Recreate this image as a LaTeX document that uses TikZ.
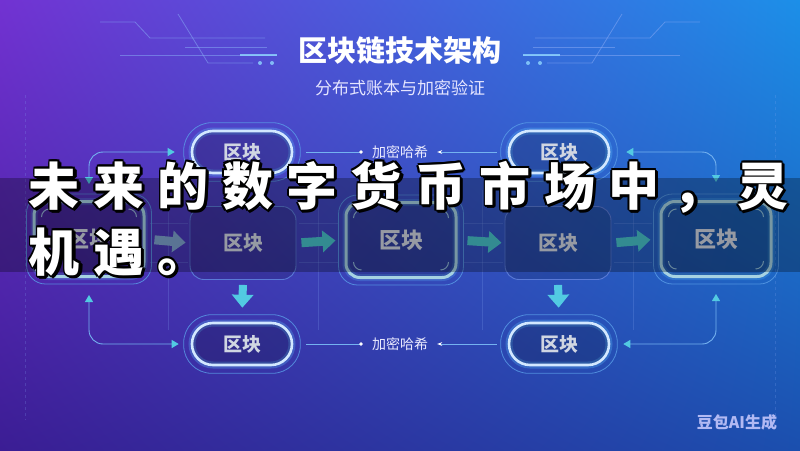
\documentclass[tikz,border=0pt]{standalone}
\usepackage{fontspec}
\setmainfont{Noto Sans CJK SC}
\usetikzlibrary{arrows.meta,calc,shadings}
\definecolor{bgUL}{HTML}{7232D2}
\definecolor{bgUR}{HTML}{1C8FE8}
\definecolor{bgLL}{HTML}{3B1D94}
\definecolor{bgLR}{HTML}{1B4FAE}
\definecolor{pillb}{HTML}{D2E8FF}
\definecolor{glowc}{HTML}{5EC4FF}
\definecolor{ringc}{HTML}{5A9EE8}
\definecolor{txtc}{HTML}{D0D6E2}
\definecolor{gsqb}{HTML}{A6D2E2}
\definecolor{boxb}{HTML}{5A7AD6}
\definecolor{teal}{HTML}{48C2CA}
\definecolor{greyblue}{HTML}{7EA2CE}
\definecolor{connc}{HTML}{74B2F0}
\definecolor{tipc}{HTML}{52CAE2}
\definecolor{decoc}{HTML}{86A8F4}
\definecolor{decob}{HTML}{8FD6FF}
\newcommand\ovc[1]{\makebox[64.4pt]{#1}}
\newcommand\ovlineA{\ovc{未}\ovc{来}\ovc{的}\ovc{数}\ovc{字}\ovc{货}\ovc{币}\ovc{市}\ovc{场}\ovc{中}\ovc{，}\ovc{灵}}
\newcommand\ovlineB{\ovc{机}\ovc{遇}\ovc{。}}
\newcommand\cornermarks[1]{%
  \draw[cmark] ($(#1.south west)+(9pt,17pt)$) arc[start angle=180,end angle=270,radius=8pt];
  \draw[cmark] ($(#1.south east)+(-17pt,9pt)$) arc[start angle=270,end angle=360,radius=8pt];
  \draw[cmark] ($(#1.north east)+(-9pt,-17pt)$) arc[start angle=0,end angle=90,radius=8pt];
  \draw[cmark] ($(#1.north west)+(17pt,-9pt)$) arc[start angle=90,end angle=180,radius=8pt];}
\begin{document}
\begin{tikzpicture}[x=1pt,y=-1pt,
  pill/.style={draw=pillb, line width=2.6pt, fill=black, fill opacity=0.18, text opacity=1,
    rounded corners=21pt, minimum width=100pt, minimum height=42pt, inner sep=0pt,
    text=txtc, font=\bfseries\fontsize{19}{19}\selectfont,
    preaction={draw=glowc, line width=7pt, draw opacity=0.28}},
  gsq/.style={draw=gsqb, line width=3pt, fill=black, fill opacity=0.16, text opacity=1,
    rounded corners=14pt, minimum width=110pt, minimum height=75pt, inner sep=0pt,
    text=txtc, font=\bfseries\fontsize{22}{22}\selectfont,
    preaction={draw=glowc, line width=7pt, draw opacity=0.22}},
  plainbox/.style={draw=boxb, line width=0.9pt, fill=black, fill opacity=0.12, text opacity=1,
    rounded corners=14pt, minimum width=106pt, minimum height=73pt, inner sep=0pt,
    text=txtc, font=\bfseries\fontsize{20}{20}\selectfont},
  ring/.style={draw=ringc, line width=0.8pt, draw opacity=0.8},
  cmark/.style={draw=gsqb, line width=1pt, draw opacity=0.8},
  hash/.style={text=white!92!blue, font=\fontsize{14}{14}\selectfont, inner sep=4pt},
  fat/.style={draw=teal, line width=9pt, -{Triangle[width=21pt,length=13pt]}},
  conn/.style={draw=connc, line width=0.9pt, rounded corners=14pt,
    {Triangle[width=8pt,length=7pt,color=tipc]}-{Triangle[width=8pt,length=7pt,color=tipc]}},
  hline/.style={draw=connc, line width=0.9pt},
  deco/.style={draw=decoc, line width=0.8pt, draw opacity=0.55},
  gridl/.style={draw=decoc, line width=0.6pt, draw opacity=0.22},
  ovtxt/.style={font=\bfseries\fontsize{51}{51}\selectfont, inner sep=0pt, anchor=base west}]
\useasboundingbox (0,0) rectangle (800,450);
% background
\shade[upper left=bgUL, upper right=bgUR, lower left=bgLL, lower right=bgLR] (0,0) rectangle (800,450);
% decorative circuit lines
\foreach \s in {1,-1}{
  \begin{scope}[shift={(400,0)}, xscale=\s]
    \draw[deco] (-300,22) -- (-265,22) -- (-250,38) -- (-135,38);
    \draw[deco] (-215,47) -- (-133,47);
    \draw[deco] (-280,55) -- (-123,55);
    \draw[draw=decob, line width=2.2pt, draw opacity=0.8] (-160,55) -- (-123,55);
    \draw[deco] (-222,14) -- (-192,63) -- (-147,63);
    \fill[decob, fill opacity=0.8] (-140,63) circle (2pt) (-128,63) circle (2pt);
    \draw[gridl, dashed] (-375,95) -- (-375,420);
  \end{scope}}
% faint grid
\foreach \x in {168,318,482,633}{\draw[gridl] (\x,190) -- (\x,330);}
\foreach \y in {223,262}{
  \draw[gridl] (150,\y) -- (188,\y); \draw[gridl] (299,\y) -- (338,\y);
  \draw[gridl] (464,\y) -- (503,\y); \draw[gridl] (614,\y) -- (652,\y);}
% title
\node[text=white, font=\bfseries\fontsize{29}{29}\selectfont] (title) at (400,50) {区块链技术架构};
\node[text=white!90!blue, font=\fontsize{17}{17}\selectfont] (sub) at (400,88) {分布式账本与加密验证};
% nodes
\node[gsq] (m1) at (89,239) {区块};
\node[plainbox] (m2) at (243,243) {区块};
\node[gsq] (m3) at (401,240) {区块};
\node[plainbox] (m4) at (558,243) {区块};
\node[gsq] (m5) at (716,239) {区块};
\node[pill] (t1) at (242,152) {区块};
\node[pill] (t2) at (559,152) {区块};
\node[pill] (b1) at (242,344) {区块};
\node[pill] (b2) at (559,344) {区块};
\node[hash] (h1) at (400,152) {加密哈希};
\node[hash] (h2) at (400,344) {加密哈希};
% rings
\foreach \n in {m1,m3,m5}{
  \draw[ring, rounded corners=19pt] ([shift={(-6pt,-6pt)}]\n.south west) rectangle ([shift={(6pt,6pt)}]\n.north east);
  \cornermarks{\n}}
\foreach \n in {t1,t2,b1,b2}{
  \draw[ring, rounded corners=28pt] ([shift={(-7pt,-7pt)}]\n.south west) rectangle ([shift={(7pt,7pt)}]\n.north east);}
% thick arrows
\draw[fat, draw=greyblue, shorten <=9pt, shorten >=4pt] (m1.east) -- (m2.west);
\draw[fat, shorten <=5pt, shorten >=9pt] (m2.east) -- (m3.west);
\draw[fat, shorten <=10pt, shorten >=3pt] (m3.east) -- (m4.west);
\draw[fat, shorten <=5pt, shorten >=9pt] (m4.east) -- (m5.west);
\draw[fat, line width=8pt, draw=tipc, shorten <=5pt, shorten >=14pt] (m2.south) -- (b1.north);
\draw[fat, line width=8pt, draw=tipc, shorten <=5pt, shorten >=14pt] (m4.south) -- (b2.north);
% thin connectors
\draw[conn, shorten <=16pt, shorten >=16pt] (m1.north) |- (t1.west);
\draw[conn, shorten <=16pt, shorten >=18pt] (t2.east) -| (m5.north);
\draw[conn, shorten <=17pt, shorten >=12pt] (m1.south) |- (b1.west);
\draw[conn, shorten <=13pt, shorten >=16pt] (b2.east) -| (m5.south);
% hash links
\draw[hline, -{Circle[length=3.5pt,color=white]}, shorten <=13pt, shorten >=5pt] (t1.east) -- (h1.west);
\draw[hline, -{Stealth[length=5pt,color=white]}, shorten <=11pt, shorten >=5pt] (t2.west) -- (h1.east);
\draw[hline, -{Circle[length=3.5pt,color=white]}, shorten <=13pt, shorten >=5pt] (b1.east) -- (h2.west);
\draw[hline, -{Stealth[length=5pt,color=white]}, shorten <=11pt, shorten >=5pt] (b2.west) -- (h2.east);
% watermark
\node[text=white!80!blue, text opacity=0.85, font=\bfseries\fontsize{16}{16}\selectfont] (wm) at (737,422) {豆包AI生成};
% dark band
\fill[black, fill opacity=0.28] (0,178) rectangle (800,272);
% overlay text
\foreach \dx/\dy [count=\k] in {2.5/2.5, 1.5/3.2, 3.2/1.5, -1.2/-1.2, 1.3/-1.3, -1.3/1.3, 0/2.2, 2.2/0, -1.5/0, 0/-1.5}{
  \node[ovtxt, text=black] (shA\k) at (22+\dx,205+\dy) {\ovlineA};
  \node[ovtxt, text=black] (shB\k) at (22+\dx,271+\dy) {\ovlineB};}
\node[ovtxt, text=white] (ovA) at (22,205) {\ovlineA};
\node[ovtxt, text=white] (ovB) at (22,271) {\ovlineB};
\end{tikzpicture}
\end{document}
